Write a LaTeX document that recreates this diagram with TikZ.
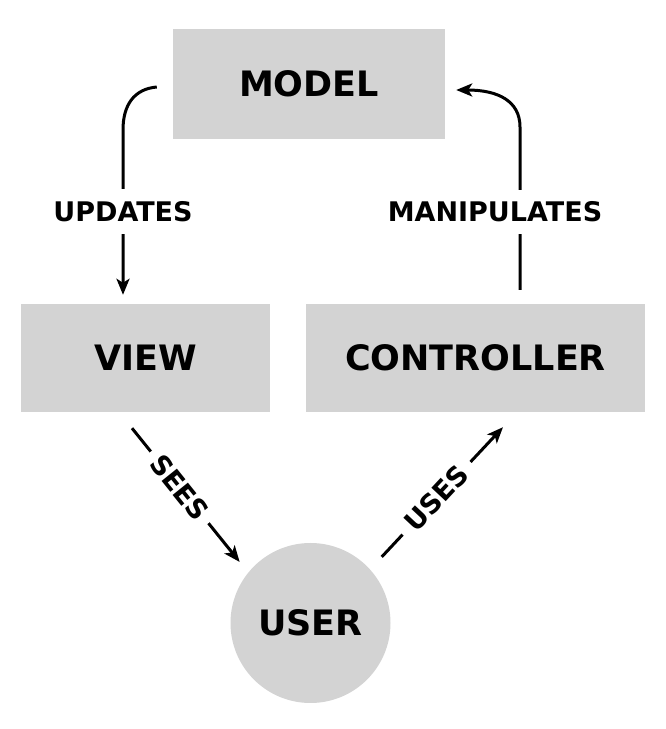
\documentclass[tikz,border=0pt]{standalone}
\usepackage{fontspec}
\setmainfont{DejaVu Sans}
\usetikzlibrary{arrows.meta}
\definecolor{boxgray}{RGB}{211,211,211}

\begin{document}
\begin{tikzpicture}[x=1pt,y=1pt,
  every node/.style={font=\bfseries},
  part/.style={fill=boxgray,inner sep=0pt,font=\bfseries\fontsize{35}{42}\selectfont},
  lab/.style={fill=white,inner xsep=8pt,inner ysep=12pt,font=\bfseries\fontsize{27}{32}\selectfont},
  flow/.style={line width=3pt,-{Stealth[length=16pt,width=13pt,inset=4pt]}}]
\useasboundingbox (0,0) rectangle (666,729);
\node[part,minimum width=272pt,minimum height=110pt] (model) at (309,645) {MODEL};
\node[part,minimum width=249pt,minimum height=108pt] (view) at (145.5,371) {VIEW};
\node[part,minimum width=339pt,minimum height=108pt] (controller) at (475.5,371) {CONTROLLER};
\node[part,circle,minimum size=160pt] (user) at (310.5,106) {USER};
\coordinate (m-out) at ([shift={(-16,-3)}]model.west);
\coordinate (m-in) at ([shift={(11,-6)}]model.east);
\coordinate (v-in) at ([xshift=-22.5pt]view.north);
\coordinate (v-out) at ([shift={(-13.5,-16)}]view.south);
\coordinate (c-in) at ([shift={(27.5,-15)}]controller.south);
\coordinate (c-out) at ([xshift=44.5pt]controller.north);
\draw[flow,shorten >=9pt] (m-out) .. controls (134,640) and (123,624) .. (123,599)
  -- node[lab,pos=0.47] (updates) {UPDATES} (v-in);
\draw[flow,shorten <=14pt] (c-out) -- node[lab,pos=0.52,xshift=-25pt] (manipulates) {MANIPULATES} (520,602)
  .. controls (520,628) and (498,639) .. (m-in);
\draw[flow,shorten >=13.6pt] (v-out) -- node[lab,sloped,pos=0.41] (sees) {SEES} (user.141.7);
\draw[flow,shorten <=17pt] (user.42) -- node[lab,sloped,pos=0.5,inner xsep=10pt] (uses) {USES} (c-in);
\end{tikzpicture}
\end{document}
